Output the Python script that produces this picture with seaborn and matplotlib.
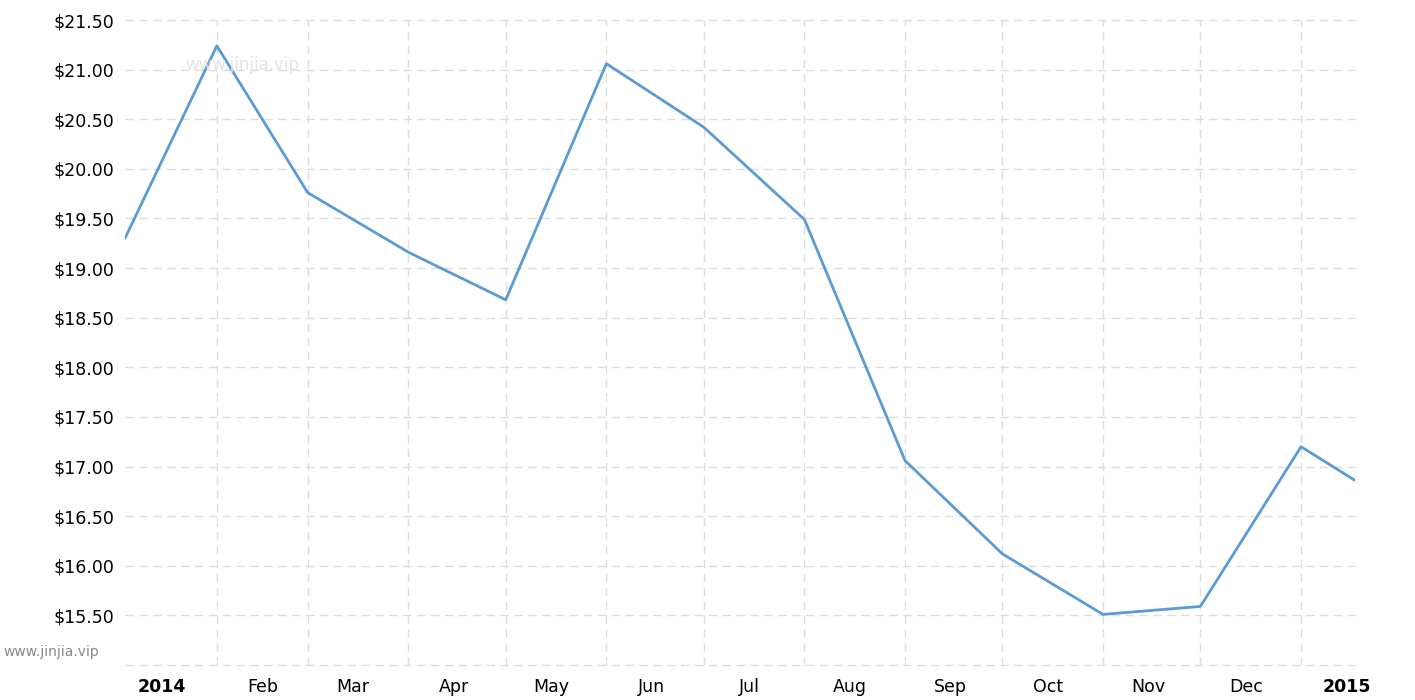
import matplotlib
matplotlib.use("Agg")
import matplotlib.pyplot as plt
import matplotlib.dates as mdates
import matplotlib.ticker as mticker
import seaborn as sns
import pandas as pd

dates = ["2014-01-03 17:00", "2014-02-01 00:00", "2014-03-01 00:00", "2014-04-01 00:00",
         "2014-05-01 00:00", "2014-06-01 00:00", "2014-07-01 00:00", "2014-08-01 00:00",
         "2014-09-01 00:00", "2014-10-01 00:00", "2014-11-01 00:00", "2014-12-01 00:00",
         "2015-01-01 00:00", "2015-01-17 15:00"]
prices = [19.30, 21.24, 19.76, 19.16, 18.68, 21.06, 20.42, 19.49, 17.06, 16.12,
          15.51, 15.59, 17.20, 16.86]
grid_dates = ["2014-02-01", "2014-03-01", "2014-04-01", "2014-05-01", "2014-06-01",
              "2014-07-01", "2014-08-01", "2014-09-01", "2014-10-01", "2014-11-01",
              "2014-12-01", "2015-01-01"]
label_dates = ["2014-01-15", "2014-02-15", "2014-03-15", "2014-04-15", "2014-05-15",
               "2014-06-15", "2014-07-15", "2014-08-15", "2014-09-15", "2014-10-15",
               "2014-11-15", "2014-12-15", "2015-01-15"]
month_labels = ["2014", "Feb", "Mar", "Apr", "May", "Jun", "Jul", "Aug", "Sep",
                "Oct", "Nov", "Dec", "2015"]
y_ticks = [15.00, 15.50, 16.00, 16.50, 17.00, 17.50, 18.00, 18.50, 19.00, 19.50,
           20.00, 20.50, 21.00, 21.50]

df = pd.DataFrame({"date": pd.to_datetime(dates, format="mixed"), "price": prices})

sns.set_theme(style="white")
plt.rcParams['font.family'] = ['DejaVu Sans']

fig = plt.figure(figsize=(14.15, 7.0), dpi=100)
ax = fig.add_axes([125/1415, 35/700, (1355-125)/1415, (680-35)/700])

sns.lineplot(data=df, x="date", y="price", ax=ax, color="#5b9bd5", linewidth=2.0,
             zorder=3)

ax.set_xlim(df["date"].iloc[0], df["date"].iloc[-1])
ax.set_ylim(15.0, 21.5)

# grid lines at month starts
ax.xaxis.set_major_locator(mticker.FixedLocator(mdates.date2num(pd.to_datetime(grid_dates))))
ax.xaxis.set_major_formatter(mticker.NullFormatter())
ax.xaxis.set_minor_locator(mticker.FixedLocator(mdates.date2num(pd.to_datetime(label_dates))))
ax.xaxis.set_minor_formatter(mticker.FixedFormatter(month_labels))

ax.yaxis.set_major_locator(mticker.FixedLocator(y_ticks))
ax.yaxis.set_major_formatter(mticker.FuncFormatter(lambda v, p: "" if abs(v - 15.0) < 1e-6 else f"${v:.2f}"))

ax.grid(True, which="major", axis="both", color="#dddddd", linestyle=(0, (6, 4)), linewidth=1.0)
ax.set_axisbelow(True)
ax.tick_params(axis="both", which="both", length=0)
ax.tick_params(axis="y", labelsize=12.5, pad=8, labelcolor="black")
ax.tick_params(axis="x", which="minor", labelsize=12.5, pad=9, labelcolor="black")

for s in ax.spines.values():
    s.set_visible(False)

ax.set_xlabel("")
ax.set_ylabel("")

fig.canvas.draw()
for lbl in ax.xaxis.get_minorticklabels():
    if lbl.get_text() in ("2014", "2015"):
        lbl.set_fontweight("bold")
for gl in ax.get_ygridlines() + ax.get_xgridlines():
    gl.set_clip_on(False)

fig.text(3/1415, 1 - 652/700, "www.jinjia.vip", fontsize=10, color="#888888",
         va="center", ha="left")
fig.text(185/1415, 1 - 65/700, "www.jinjia.vip", fontsize=12, color="#e4e4e4",
         va="center", ha="left", zorder=1)

fig.savefig("out.png", dpi=100)
